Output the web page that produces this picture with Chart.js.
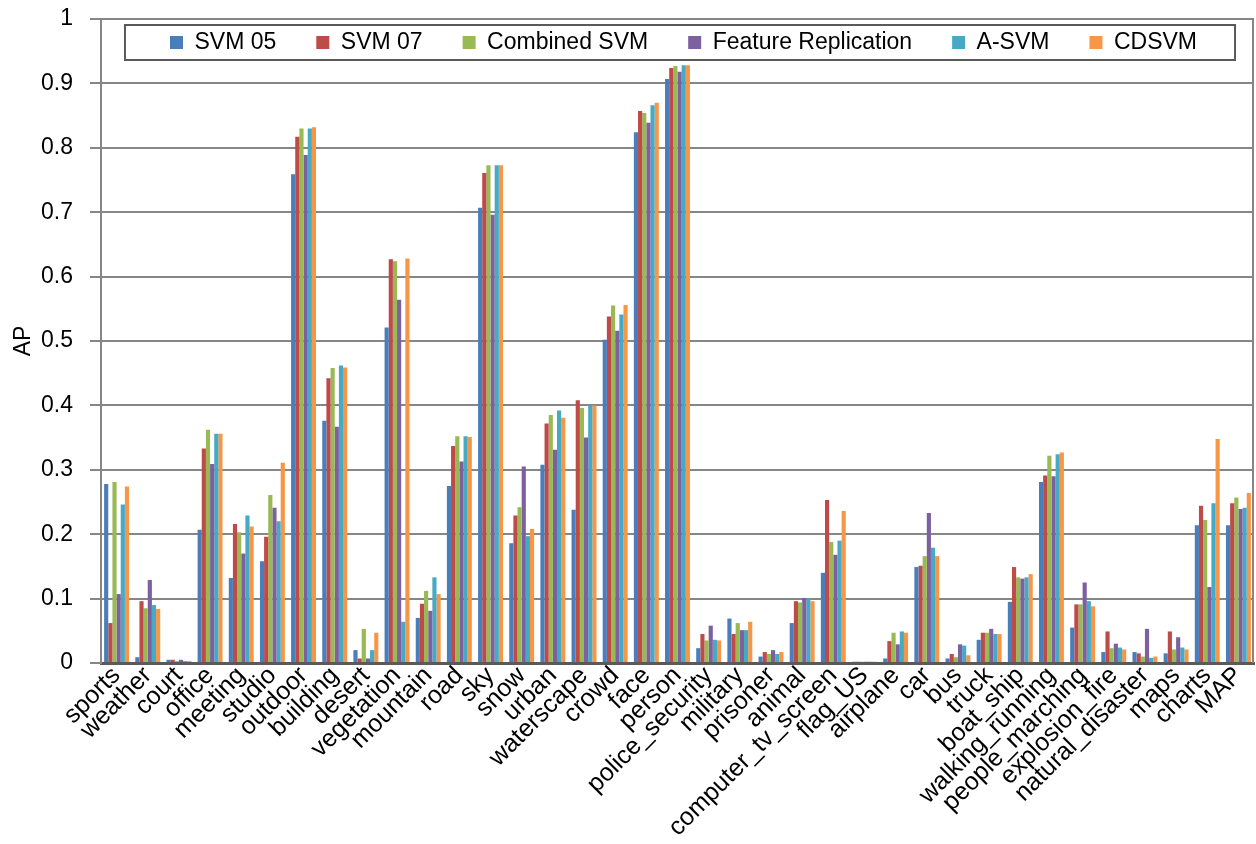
<!DOCTYPE html>
<html>
<head>
<meta charset="utf-8">
<title>AP per concept</title>
<script src="https://cdn.jsdelivr.net/npm/chart.js@4"></script>
<style>
    html, body { margin: 0; padding: 0; background: #fff; }
    canvas { display: block; }
</style>
</head>
<body>
<canvas id="chart" width="1256" height="844"></canvas>
<script>
const concepts = ['sports', 'weather', 'court', 'office', 'meeting', 'studio', 'outdoor', 'building',
    'desert', 'vegetation', 'mountain', 'road', 'sky', 'snow', 'urban', 'waterscape', 'crowd', 'face',
    'person', 'police_security', 'military', 'prisoner', 'animal', 'computer_tv_screen', 'flag_US',
    'airplane', 'car', 'bus', 'truck', 'boat_ship', 'walking_running', 'people_marching',
    'explosion_fire', 'natural_disaster', 'maps', 'charts', 'MAP']

const svm05 = [0.278, 0.009, 0.005, 0.207, 0.132, 0.158, 0.759, 0.376, 0.020, 0.521, 0.070, 0.275,
    0.707, 0.186, 0.308, 0.238, 0.502, 0.824, 0.907, 0.023, 0.069, 0.010, 0.062, 0.140, 0.002,
    0.007, 0.149, 0.007, 0.036, 0.095, 0.281, 0.055, 0.017, 0.017, 0.015, 0.214, 0.214]
const svm07 = [0.062, 0.096, 0.005, 0.333, 0.216, 0.196, 0.817, 0.442, 0.007, 0.627, 0.092, 0.337,
    0.761, 0.229, 0.372, 0.408, 0.538, 0.857, 0.924, 0.045, 0.045, 0.017, 0.096, 0.253, 0.002,
    0.034, 0.151, 0.014, 0.047, 0.149, 0.291, 0.091, 0.049, 0.015, 0.049, 0.244, 0.248]
const combinedSvm = [0.281, 0.085, 0.003, 0.362, 0.203, 0.261, 0.830, 0.458, 0.053, 0.624, 0.112, 0.352,
    0.773, 0.242, 0.385, 0.396, 0.555, 0.854, 0.927, 0.035, 0.062, 0.014, 0.094, 0.188, 0.002,
    0.047, 0.166, 0.009, 0.047, 0.133, 0.322, 0.091, 0.023, 0.010, 0.021, 0.222, 0.257]
const featureReplication = [0.107, 0.129, 0.005, 0.309, 0.170, 0.241, 0.789, 0.367, 0.007, 0.564, 0.081, 0.313,
    0.696, 0.305, 0.331, 0.350, 0.516, 0.839, 0.918, 0.058, 0.051, 0.020, 0.101, 0.168, 0.002,
    0.029, 0.233, 0.029, 0.053, 0.131, 0.290, 0.125, 0.030, 0.053, 0.040, 0.118, 0.239]
const aSvm = [0.246, 0.090, 0.003, 0.356, 0.229, 0.220, 0.830, 0.462, 0.020, 0.064, 0.133, 0.352,
    0.773, 0.197, 0.392, 0.400, 0.541, 0.866, 0.928, 0.036, 0.051, 0.014, 0.099, 0.190, 0.002,
    0.049, 0.179, 0.027, 0.045, 0.133, 0.324, 0.096, 0.024, 0.008, 0.024, 0.248, 0.241]
const cdSvm = [0.274, 0.084, 0.003, 0.356, 0.212, 0.311, 0.832, 0.459, 0.047, 0.628, 0.107, 0.351,
    0.773, 0.208, 0.381, 0.400, 0.556, 0.870, 0.928, 0.035, 0.064, 0.017, 0.096, 0.236, 0.002,
    0.047, 0.166, 0.012, 0.045, 0.138, 0.327, 0.088, 0.021, 0.010, 0.021, 0.348, 0.264]

const seriesNames = ['SVM 05', 'SVM 07', 'Combined SVM', 'Feature Replication', 'A-SVM', 'CDSVM']
const seriesColors = ['#4a7ebb', '#be4b48', '#98b954', '#7d60a0', '#46aac5', '#f79646']

const family = "'Liberation Sans', Arial, sans-serif"
const font = { family: family, size: 23 }

// legend sits inside the plot area as one row, with a frame around it
const legendFrame = {
    id: 'legendFrame',
    beforeLayout(chart) {
        chart.legend.isHorizontal = () => true
    },
    afterLayout(chart) {
        const lg = chart.legend
        const area = chart.chartArea
        lg.left = area.left + 12
        lg.right = area.right
        lg.top = area.top - 28
    },
    beforeDatasetsDraw(chart) {
        const {ctx, chartArea} = chart
        ctx.save()
        ctx.strokeStyle = '#868686'
        ctx.lineWidth = 2
        ctx.beginPath()
        ctx.moveTo(chartArea.right - 1, chartArea.top)
        ctx.lineTo(chartArea.right - 1, chartArea.bottom)
        ctx.stroke()
        ctx.restore()
    },
    afterDraw(chart) {
        const boxes = chart.legend.legendHitBoxes
        if (!boxes || !boxes.length) return
        const left = Math.min(...boxes.map(b => b.left)) - 45
        const right = Math.max(...boxes.map(b => b.left + b.width)) + 38
        const top = Math.min(...boxes.map(b => b.top)) - 6
        const bottom = Math.max(...boxes.map(b => b.top + b.height)) + 6
        const ctx = chart.ctx
        ctx.save()
        ctx.strokeStyle = '#5a5a5a'
        ctx.lineWidth = 2
        ctx.strokeRect(left, top, right - left, bottom - top)
        ctx.restore()
    }
}

new Chart(document.getElementById('chart'), {
    type: 'bar',
    data: {
        labels: concepts,
        datasets: [svm05, svm07, combinedSvm, featureReplication, aSvm, cdSvm].map((data, i) => ({
            label: seriesNames[i],
            data: data,
            backgroundColor: seriesColors[i],
            borderWidth: 0,
            categoryPercentage: 0.8,
            barPercentage: 1.0
        }))
    },
    options: {
        responsive: false,
        animation: false,
        devicePixelRatio: 1,
        layout: { padding: { top: 19, right: 2, left: 0, bottom: 0 } },
        scales: {
            x: {
                grid: { display: false, drawTicks: false },
                border: { color: '#5a5a5a', width: 3 },
                ticks: {
                    autoSkip: false,
                    minRotation: 45,
                    maxRotation: 45,
                    padding: -2,
                    color: '#000',
                    font: { family: family, size: 25 }
                },
                afterFit: scale => {
                    scale.height = 181
                    scale.paddingLeft = 0
                    scale.paddingRight = 0
                }
            },
            y: {
                min: 0,
                max: 1,
                ticks: {
                    stepSize: 0.1,
                    padding: 17,
                    color: '#000',
                    font: font,
                    callback: v => String(+v.toFixed(1))
                },
                grid: { color: '#868686', lineWidth: 2, tickLength: 11 },
                border: { color: '#868686', width: 2 },
                title: { display: true, text: 'AP', color: '#000', font: font, padding: { top: 10 } },
                afterFit: scale => {
                    scale.width = 101
                    scale.paddingTop = 0
                    scale.paddingBottom = 0
                }
            }
        },
        plugins: {
            legend: {
                position: 'chartArea',
                labels: {
                    color: '#000',
                    font: font,
                    boxWidth: 13,
                    boxHeight: 13,
                    padding: 40
                }
            },
            tooltip: { enabled: false }
        }
    },
    plugins: [legendFrame]
})
</script>
</body>
</html>
